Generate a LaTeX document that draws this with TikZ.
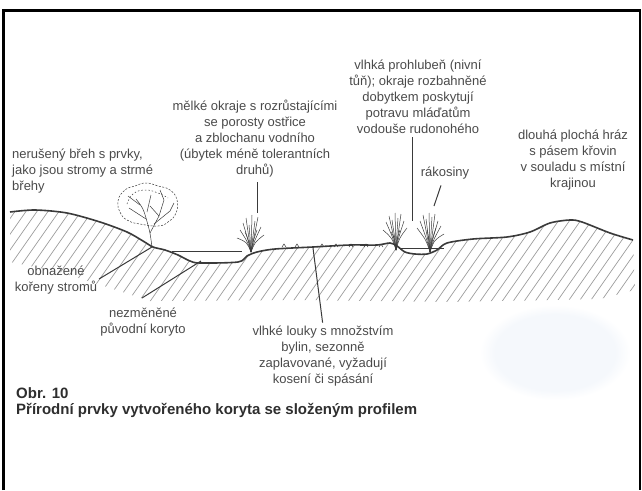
\documentclass[tikz,border=0pt]{standalone}
\usepackage{fontspec}
\setmainfont{Liberation Sans}
\usetikzlibrary{fadings}
\definecolor{ink}{HTML}{4A4A4A}
\definecolor{soil}{HTML}{3A3A3A}
\definecolor{hatchgray}{HTML}{9C9C9C}
\definecolor{scanhaze}{HTML}{F5F8FC}
\newcommand\labelfont{\fontsize{13}{16}\selectfont}
\newcommand\groundpath{plot[smooth,tension=.5] coordinates {(10,212) (35,210) (67,213) (100,222) (127,232) (143,241) (153,247) (165,250) (178,255) (190,261) (200,263) (238,262) (247,256) (257,252) (275,249) (313,247) (350,245) (377,245) (390,243) (397,246) (405,252) (415,254) (427,254) (437,250) (447,243) (473,239) (507,237) (530,232) (550,223) (570,220) (582,222) (610,233) (633,240)}}

\begin{document}
\begin{tikzpicture}[x=1pt,y=-1pt,
  note/.style={font=\labelfont,text=ink,align=center,inner sep=0pt},
  pointer/.style={draw=soil,line width=1pt},
  hatch/.style={draw=hatchgray,line width=.7pt},
  ground/.style={draw=soil,line width=1.6pt,line join=round},
  twig/.style={draw=soil,line width=.5pt}]
  \useasboundingbox (0,0) rectangle (642,490);
  \fill[scanhaze,path fading=circle with fuzzy edge 20 percent] (480,305) rectangle (630,400);
  \draw[line width=2.5pt] (3.5,490) -- (3.5,10.5) -- (640,10.5) -- (640,490);
  %
  \begin{scope}
    \clip \groundpath -- (635,290) -- (600,299) -- (450,302) -- (300,300) -- (150,301) -- (110,288) -- (60,272) -- (10,262) -- cycle;
    \foreach \x in {-120,-109,...,660}
      \draw[hatch] (\x,310) -- ++(84,-120);
  \end{scope}
  \draw[ground] \groundpath;
  \draw[twig] (172,251) -- (242,251);
  \draw[twig] (399,248) -- (444,248);
  \draw[pointer] (201,261) -- (142,298);
  %
  % tree on the bank
  \draw[twig] (152,247) .. controls (150,232) .. (146,218) .. controls (143,208) .. (136,199);
  \draw[twig] (150,233) -- (159,216) -- (164,200);
  \draw[twig] (146,219) -- (129,208);
  \draw[twig] (154,224) -- (170,211) -- (174,203);
  \draw[twig] (147,212) -- (151,195);
  \draw[twig] (140,205) -- (128,196);
  \draw[twig] (159,216) -- (150,206);
  \draw[twig] (164,200) -- (160,190);
  \draw[twig,dash pattern=on 2pt off 1.5pt] plot[smooth cycle,tension=.8] coordinates {(121,214) (118,201) (125,190) (135,186) (146,183) (158,186) (170,190) (177,200) (176,213) (168,222) (158,226) (140,224) (129,221)};
  \draw[twig,dash pattern=on 1.5pt off 2pt] plot[smooth,tension=.8] coordinates {(127,204) (133,194) (145,190) (158,193) (168,198)};
  %
  % sedge and reeds
  \foreach \dx/\h in {-14/14,-11/22,-8/29,-5/34,-2/27,1/37,4/31,7/35,10/25,13/17,-6/20,6/22}
    \draw[twig] (251,252) .. controls (251+\dx*0.3,242) .. (251+\dx,252-\h);
  \foreach \dx/\h in {-13/20,-10/28,-7/34,-4/30,-1/37,2/32,5/36,8/29,11/22,-5/18,4/20}
    \draw[twig] (396,250) .. controls (396+\dx*0.3,238) .. (396+\dx,250-\h);
  \foreach \dx/\h in {-13/24,-10/31,-7/37,-4/33,-1/39,2/35,5/38,8/31,11/26,14/18,-3/22,6/24}
    \draw[twig] (430,252) .. controls (430+\dx*0.3,240) .. (430+\dx,252-\h);
  \foreach \x in {284,297,322,336,351,366,381}
    \draw[twig] (\x-2,247) -- (\x,244) -- (\x+2,247);
  %
  \coordinate (sedge) at (257,213);
  \coordinate (pond) at (412,221);
  \coordinate (reedtip) at (434,206);
  \coordinate (treebase) at (152,247);
  \coordinate (oldbed) at (201,261);
  \coordinate (meadowpt) at (313,248);
  %
  \node[note,anchor=north west,align=left] (bank) at (12,149) {nerušený břeh s prvky,\\jako jsou stromy a strmé\\břehy};
  \node[note] (shallow) at (255,138.5) {mělké okraje s rozrůstajícími\\se porosty ostřice\\a zblochanu vodního\\(úbytek méně tolerantních\\druhů)};
  \node[note] (wet) at (418,97) {vlhká prohlubeň (nivní\\tůň); okraje rozbahněné\\dobytkem poskytují\\potravu mláďatům\\vodouše rudonohého};
  \node[note] (reeds) at (445,173) {rákosiny};
  \node[note] (dike) at (573,160) {dlouhá plochá hráz\\s pásem křovin\\v souladu s místní\\krajinou};
  \node[note] (roots) at (56,280) {obnažené\\kořeny stromů};
  \node[note] (orig) at (143,322) {nezměněné\\původní koryto};
  \node[note] (meadow) at (323,356) {vlhké louky s množstvím\\bylin, sezonně\\zaplavované, vyžadují\\kosení či spásání};
  \node[anchor=north west,align=left,inner sep=0pt,text=black!82,font=\fontsize{15}{16}\selectfont\bfseries] (caption) at (16,387) {Obr. 10\\Přírodní prvky vytvořeného koryta se složeným profilem};
  %
  \draw[pointer,shorten <=5pt] (shallow.south -| sedge) -- (sedge);
  \draw[pointer,shorten <=3pt] (wet.south -| pond) -- (pond);
  \draw[pointer] (reeds.south) ++(-4,6) -- (reedtip);
  \draw[pointer,shorten <=2pt] (roots.east) -- (treebase);
  \draw[pointer,shorten <=3pt] (meadow.north) -- (meadowpt);
\end{tikzpicture}
\end{document}
